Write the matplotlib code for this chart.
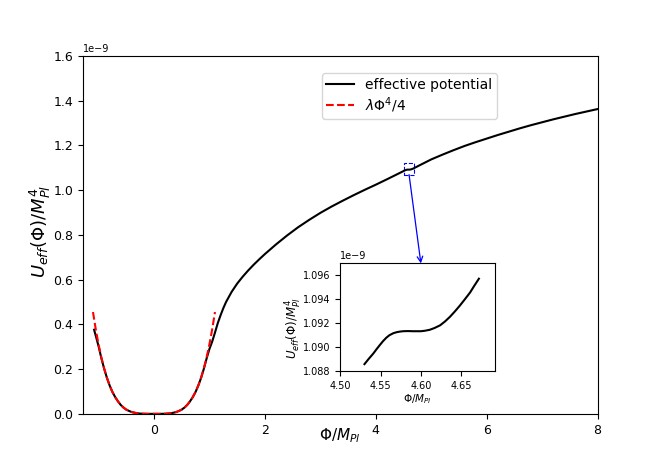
import matplotlib
matplotlib.use("Agg")
import matplotlib.pyplot as plt
from matplotlib.patches import Rectangle, ConnectionPatch

# Effective potential (units of 1e-9)
phi_eff = [-1.08, -1.04, -1.0, -0.95, -0.9, -0.85, -0.8, -0.75, -0.7, -0.65, -0.6, -0.55,
           -0.5, -0.45, -0.4, -0.35, -0.3, -0.25, -0.2, -0.15, -0.1, -0.05, 0.0,
           0.05, 0.1, 0.15, 0.2, 0.25, 0.3, 0.35, 0.4, 0.45, 0.5, 0.55, 0.6, 0.65,
           0.7, 0.75, 0.8, 0.85, 0.9, 0.95, 1.0, 1.05, 1.1, 1.15, 1.2, 1.25, 1.3,
           1.4, 1.5, 1.6, 1.7, 1.8, 1.9, 2.0, 2.2, 2.4, 2.6, 2.8, 3.0, 3.2, 3.4,
           3.6, 3.8, 4.0, 4.2, 4.4, 4.53, 4.545, 4.561, 4.578, 4.594, 4.611, 4.63,
           4.654, 4.672, 4.8, 5.0, 5.2, 5.4, 5.6, 5.8, 6.0, 6.2, 6.4, 6.6, 6.8,
           7.0, 7.2, 7.4, 7.6, 7.8, 8.0]
u_eff = [0.376, 0.340, 0.303, 0.250, 0.203, 0.162, 0.127, 0.098, 0.075, 0.056, 0.040, 0.028,
         0.019, 0.013, 0.008, 0.005, 0.0025, 0.0012, 0.0005, 0.0002, 0.0, 0.0, 0.0,
         0.0, 0.0, 0.0002, 0.0005, 0.0012, 0.0025, 0.005, 0.008, 0.013, 0.019, 0.028, 0.040, 0.056,
         0.075, 0.098, 0.127, 0.161, 0.202, 0.248, 0.290, 0.323, 0.363, 0.405, 0.440, 0.472, 0.500,
         0.545, 0.582, 0.613, 0.641, 0.667, 0.691, 0.714, 0.757, 0.797, 0.834, 0.867, 0.898, 0.926, 0.952,
         0.977, 1.001, 1.024, 1.048, 1.0725, 1.0886, 1.0898, 1.0910, 1.0913, 1.0913, 1.0914, 1.0921,
         1.0940, 1.0957, 1.112, 1.137, 1.158, 1.178, 1.197, 1.214, 1.230, 1.246, 1.261, 1.276, 1.290,
         1.303, 1.316, 1.328, 1.340, 1.351, 1.362]

# lambda Phi^4 / 4 (units of 1e-9)
phi_quartic = [-1.1, -1.05, -1.0, -0.95, -0.9, -0.85, -0.8, -0.75, -0.7, -0.65, -0.6, -0.55,
               -0.5, -0.45, -0.4, -0.35, -0.3, -0.25, -0.2, -0.15, -0.1, -0.05, 0.0,
               0.05, 0.1, 0.15, 0.2, 0.25, 0.3, 0.35, 0.4, 0.45, 0.5, 0.55, 0.6, 0.65,
               0.7, 0.75, 0.8, 0.85, 0.9, 0.95, 1.0, 1.05, 1.1]
u_quartic = [0.455, 0.378, 0.311, 0.253, 0.204, 0.162, 0.127, 0.098, 0.075, 0.056, 0.040, 0.028,
             0.019, 0.013, 0.008, 0.005, 0.0025, 0.0012, 0.0005, 0.0002, 0.0, 0.0, 0.0,
             0.0, 0.0, 0.0002, 0.0005, 0.0012, 0.0025, 0.005, 0.008, 0.013, 0.019, 0.028, 0.040, 0.056,
             0.075, 0.098, 0.127, 0.162, 0.204, 0.253, 0.311, 0.378, 0.455]

# Inset: zoom around the inflection point (units of 1e-9)
phi_zoom = [4.530, 4.535, 4.541, 4.545, 4.549, 4.553, 4.557, 4.561, 4.566, 4.570, 4.574,
            4.578, 4.582, 4.586, 4.590, 4.594, 4.600, 4.605, 4.611, 4.617, 4.624, 4.630,
            4.636, 4.642, 4.648, 4.654, 4.661, 4.666, 4.672]
u_zoom = [1.08858, 1.08900, 1.08947, 1.08983, 1.09017, 1.09050, 1.09078, 1.09100, 1.09117, 1.09125,
          1.09130, 1.09133, 1.09134, 1.09134, 1.09133, 1.09133, 1.09133, 1.09137, 1.09145, 1.09160,
          1.09183, 1.09215, 1.09253, 1.09297, 1.09344, 1.09395, 1.09456, 1.09510, 1.09572]

main_xticks = [0, 2, 4, 6, 8]
main_yticks = [0.0, 0.2, 0.4, 0.6, 0.8, 1.0, 1.2, 1.4, 1.6]
inset_xticks = [4.50, 4.55, 4.60, 4.65]
inset_yticks = [1.088, 1.090, 1.092, 1.094, 1.096]

S = 1e-9

fig, ax = plt.subplots(figsize=(6.64, 4.65), dpi=100)
ax.plot(phi_eff, [v * S for v in u_eff], color="black", lw=1.5, label="effective potential")
ax.plot(phi_quartic, [v * S for v in u_quartic], color="red", ls="--", lw=1.5,
        label=r"$\lambda\Phi^4/4$")
ax.set_xlim(-1.28, 8)
ax.set_ylim(0, 1.6 * S)
ax.set_xticks(main_xticks)
ax.set_yticks([v * S for v in main_yticks])
ax.tick_params(labelsize=9)
ax.yaxis.get_offset_text().set_fontsize(7)
ax.set_xlabel(r"$\Phi/M_{Pl}$", fontsize=11)
ax.xaxis.set_label_coords(0.5, -0.036)
ax.set_ylabel(r"$U_{eff}(\Phi)/M_{Pl}^4$", fontsize=13)
ax.yaxis.set_label_coords(-0.058, 0.51)
ax.legend(loc="upper left", bbox_to_anchor=(0.465, 0.951), borderaxespad=0, fontsize=10,
          labelspacing=0.25, borderpad=0.3)

# dashed box marking the zoomed region
rect = Rectangle((4.50, 1.069 * S), 0.19, 0.05 * S, fill=False, edgecolor="blue",
                 ls="--", lw=0.8)
ax.add_patch(rect)

axin = fig.add_axes([0.5125, 0.202, 0.233, 0.2316])
axin.plot(phi_zoom, [v * S for v in u_zoom], color="black", lw=1.5)
axin.set_xlim(4.50, 4.692)
axin.set_ylim(1.088 * S, 1.097 * S)
axin.set_xticks(inset_xticks)
axin.set_xticklabels(["4.50", "4.55", "4.60", "4.65"])
axin.set_yticks([v * S for v in inset_yticks])
axin.tick_params(labelsize=7)
axin.yaxis.get_offset_text().set_fontsize(7)
axin.set_xlabel(r"$\Phi/M_{Pl}$", fontsize=7.5, labelpad=1)
axin.set_ylabel(r"$U_{eff}(\Phi)/M_{Pl}^4$", fontsize=8.5)
axin.yaxis.set_label_coords(-0.235, 0.40)

con = ConnectionPatch(xyA=(4.60, 1.069 * S), coordsA=ax.transData,
                      xyB=(4.60, 1.097 * S), coordsB=axin.transData,
                      arrowstyle="->", color="blue", lw=0.9)
fig.add_artist(con)

fig.savefig("out.png", dpi=100)
